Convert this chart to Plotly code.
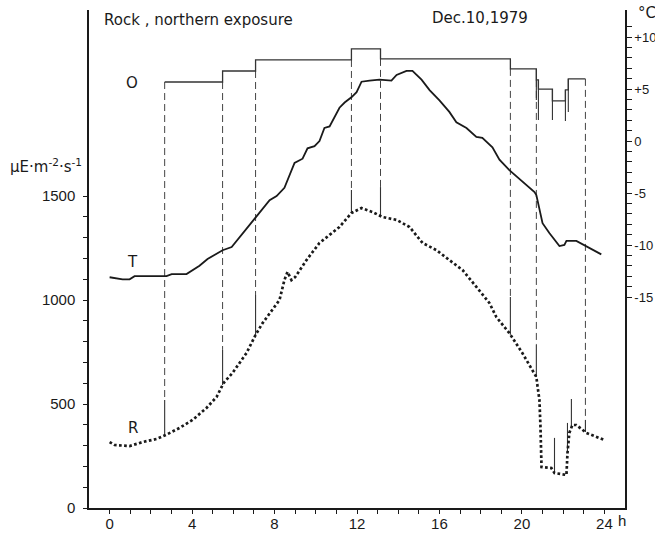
import numpy as np
import plotly.graph_objects as go

# ---------------- data ----------------
# Temperature curve T (°C, right axis)
T_hours = [0.0, 0.63, 0.97, 1.21, 2.76, 3.01, 3.73, 4.36, 4.75, 5.48, 5.92, 7.13, 7.76,
           8.10, 8.48, 8.97, 9.36, 9.60, 9.94, 10.18, 10.42, 10.67, 10.9, 11.15, 11.4,
           11.73, 11.98, 12.22, 12.61, 13.09, 13.67, 13.92, 14.40, 14.69, 15.13, 15.52,
           16.0, 16.48, 16.82, 17.31, 17.79, 18.08, 18.57, 18.91, 19.39, 20.02, 20.61,
           20.70, 20.85, 21.0, 21.33, 21.82, 22.06, 22.16, 22.64, 23.13, 23.85]
T_vals = [-13.1, -13.3, -13.3, -13.0, -13.0, -12.8, -12.8, -12.0, -11.35, -10.5, -10.2,
          -7.3, -5.7, -5.3, -4.5, -2.1, -1.7, -0.7, -0.5, 0.0, 1.25, 1.4, 2.2, 3.2, 3.7,
          4.2, 4.7, 5.7, 5.8, 5.9, 5.8, 6.35, 6.75, 6.75, 5.9, 4.9, 3.9, 2.8, 1.8, 1.25,
          0.4, 0.3, -0.6, -1.8, -2.8, -3.9, -4.9, -5.2, -6.6, -7.9, -8.85, -10.1, -10.0,
          -9.6, -9.6, -10.1, -10.9]

# Irradiance in rock R (µE m-2 s-1, left axis)
R_hours = [0.0, 0.24, 0.97, 1.6, 2.28, 2.72, 3.39, 4.02, 4.70, 5.19, 5.53, 5.96, 6.64,
           7.08, 7.42, 7.90, 8.24, 8.48, 8.63, 8.82, 9.0, 9.55, 10.18, 10.67, 11.15,
           11.73, 12.22, 12.75, 13.24, 13.92, 14.55, 15.18, 15.85, 16.48, 17.12, 17.79,
           18.42, 18.76, 19.39, 20.02, 20.51, 20.70, 20.75, 20.85, 20.90, 20.95, 21.43,
           21.58, 22.16, 22.21, 22.30, 22.45, 22.64, 23.13, 24.0]
R_vals = [317, 303, 298, 317, 332, 351, 385, 423, 481, 534, 601, 649, 745, 832, 889,
          952, 1000, 1096, 1135, 1096, 1110, 1192, 1274, 1313, 1351, 1418, 1442, 1423,
          1399, 1385, 1351, 1274, 1240, 1192, 1144, 1063, 986, 918, 841, 745, 663, 630,
          591, 519, 389, 197, 192, 168, 159, 264, 361, 399, 399, 361, 327]

# Irradiance in the open O (step curve, left axis)
O_hours = [2.67, 5.48, 7.08, 11.73, 13.14, 19.44, 20.70, 20.80, 21.48, 22.11, 22.25, 23.08]
O_vals = [2048, 2101, 2154, 2207, 2159, 2111, 2058, 2014, 1957, 2010, 2063, 2063]

# change points: dashed drop from O to R, solid near R
drop_hours = [2.67, 5.48, 7.08, 11.73, 13.14, 19.44, 20.70, 23.08]
drop_solid_top = [519, 760, 1024, 1529, 1543, 1014, 784, 423]

# short solid marks below the O steps in the evening
tail_hours = [20.70, 20.80, 21.48, 22.11, 22.25]
tail_bottom = [1962, 1865, 1865, 1861, 1904]

# short solid marks above R in the evening
low_hours = [21.58, 22.21, 22.40]
low_top = [337, 409, 524]

x_ticks = list(range(0, 25))
left_ticks = list(range(0, 1600, 100))
right_ticks = list(range(-15, 12))

# ---------------- helpers ----------------
def o_level(t, mode):
    i = O_hours.index(t)
    before = O_vals[i - 1] if i > 0 else O_vals[i]
    after = O_vals[i]
    return min(before, after) if mode == "min" else max(before, after)

def seg_xy(ts, tops, bottoms):
    xs, ys = [], []
    for t, a, b in zip(ts, tops, bottoms):
        xs += [t, t, None]
        ys += [a, b, None]
    return xs, ys

R_at = lambda t: float(np.interp(t, R_hours, R_vals))

dash_x, dash_y = seg_xy(drop_hours, [o_level(t, "min") for t in drop_hours], drop_solid_top)
sol_x, sol_y = seg_xy(drop_hours + low_hours, drop_solid_top + low_top,
                      [R_at(t) for t in drop_hours + low_hours])
tail_x, tail_y = seg_xy(tail_hours, [o_level(t, "max") for t in tail_hours], tail_bottom)

INK = "#1a1a1a"
fig = go.Figure()

fig.add_trace(go.Scatter(x=dash_x, y=dash_y, mode="lines", connectgaps=False,
                         line=dict(color="#444444", width=1, dash="7px,4px"),
                         hoverinfo="skip", showlegend=False))
fig.add_trace(go.Scatter(x=sol_x, y=sol_y, mode="lines", connectgaps=False,
                         line=dict(color="#333333", width=1.1),
                         hoverinfo="skip", showlegend=False))
fig.add_trace(go.Scatter(x=tail_x, y=tail_y, mode="lines", connectgaps=False,
                         line=dict(color="#333333", width=1.1),
                         hoverinfo="skip", showlegend=False))
fig.add_trace(go.Scatter(x=O_hours, y=O_vals, mode="lines", line_shape="hv",
                         line=dict(color="#333333", width=1.3), name="O",
                         showlegend=False))
fig.add_trace(go.Scatter(x=R_hours, y=R_vals, mode="lines",
                         line=dict(color=INK, width=2.7, dash="2.7px,2.4px"), name="R",
                         showlegend=False))
fig.add_trace(go.Scatter(x=T_hours, y=T_vals, mode="lines", yaxis="y2",
                         line=dict(color=INK, width=1.8), name="T", showlegend=False))

TXT = "DejaVu Sans"
NUM = "Liberation Sans"

fig.update_layout(
    width=655, height=533,
    margin=dict(l=89, r=30, t=10, b=25, autoexpand=False),
    paper_bgcolor="white", plot_bgcolor="white",
    font=dict(family=NUM, size=15, color=INK),
    xaxis=dict(range=[-1, 25], showgrid=False, zeroline=False, showline=True,
               automargin=False,
               linecolor=INK, linewidth=1.5, ticks="outside", ticklen=4,
               tickcolor=INK, tickwidth=1, tickvals=x_ticks,
               ticktext=[str(v) if v % 4 == 0 else "" for v in x_ticks],
               ticklabelstandoff=-3,
               tickfont=dict(family=NUM, size=15, color=INK)),
    yaxis=dict(range=[0, 498 / 0.208], showgrid=False, zeroline=False, showline=True,
               automargin=False,
               linecolor=INK, linewidth=1.5, ticks="outside", ticklen=4,
               tickcolor=INK, tickwidth=1, tickvals=left_ticks,
               ticktext=[str(v) if v % 500 == 0 else "" for v in left_ticks],
               ticklabelstandoff=5,
               tickfont=dict(family=NUM, size=15, color=INK)),
    yaxis2=dict(range=[-367 / 10.4, 131 / 10.4], overlaying="y", side="right",
                automargin=False,
                showgrid=False, zeroline=False, showline=True, linecolor=INK,
                linewidth=1.5, ticks="outside", ticklen=5, tickcolor=INK, tickwidth=1,
                tickvals=right_ticks,
                ticktext=[("+" + str(v) if v > 0 else str(v)) if v % 5 == 0 else ""
                          for v in right_ticks],
                tickfont=dict(family=NUM, size=13, color=INK)),
)

ann = [
    dict(text="Rock , northern exposure", x=0.024, y=0.980, xanchor="left"),
    dict(text="Dec.10,1979", x=0.636, y=0.984, xanchor="left"),
    dict(text="°C", x=1.020, y=0.994, xanchor="left"),
    dict(text="µE·m<sup>-2</sup>·s<sup>-1</sup>", x=-0.152, y=0.687, xanchor="left"),
]
for a in ann:
    fig.add_annotation(xref="paper", yref="paper", showarrow=False, yanchor="middle",
                       font=dict(family=TXT, size=15, color=INK), **a)

for lbl, hx, vy in [("O", 1.07, 2043), ("T", 1.12, 1183), ("R", 1.12, 385)]:
    fig.add_annotation(x=hx, y=vy, xref="x", yref="y", text=lbl, showarrow=False,
                       font=dict(family=TXT, size=15, color=INK))

fig.add_annotation(x=24.83, y=-0.026, xref="x", yref="paper", text="h", showarrow=False,
                   yanchor="middle", font=dict(family=NUM, size=15, color=INK))

fig.write_html("out.html",
               config={"displayModeBar": False},
               post_script="document.body.style.margin='0';"
                           "document.body.style.overflow='hidden';")
